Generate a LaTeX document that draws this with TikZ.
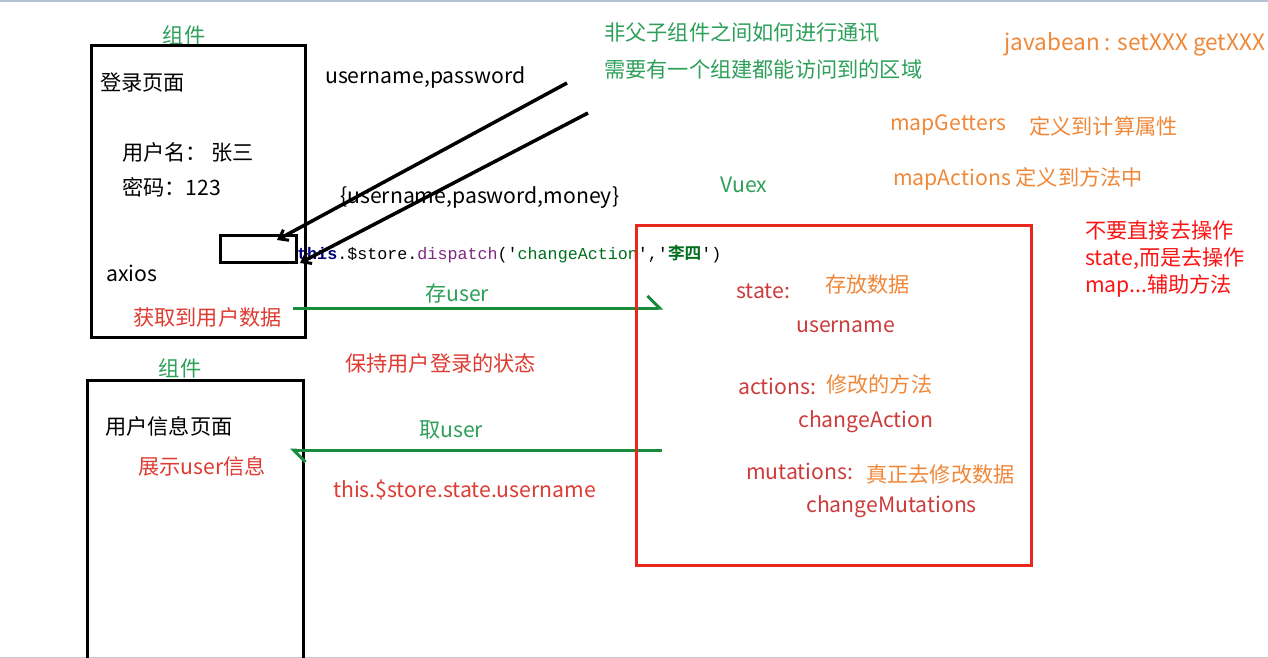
\documentclass[tikz,border=0pt]{standalone}
\usepackage{fontspec}
\setmainfont{Noto Sans CJK SC}
\newfontfamily\codefont{Liberation Mono}
\newfontfamily\cjkb{Noto Sans CJK SC}[BoldFont={* Bold}]
\usetikzlibrary{arrows.meta}
\definecolor{cgreen}{RGB}{46,160,90}
\definecolor{agreen}{RGB}{24,140,60}
\definecolor{corange}{RGB}{240,136,58}
\definecolor{cred}{RGB}{222,60,50}
\definecolor{bred}{RGB}{250,20,20}
\definecolor{boxred}{RGB}{232,40,30}
\definecolor{sred}{RGB}{205,60,60}
\definecolor{codeblue}{RGB}{0,0,128}
\definecolor{codepurple}{RGB}{128,40,128}
\definecolor{codegreen}{RGB}{0,110,30}
\tikzset{
  txt/.style={anchor=west,inner sep=0pt,yshift=-2pt,font=\fontsize{21.2}{25}\selectfont},
  ctxt/.style={inner sep=0pt,yshift=-1pt,font=\fontsize{21.2}{25}\selectfont},
  blk/.style={draw=black,line width=3pt},
  garrow/.style={draw=agreen,line width=3pt,-{Straight Barb[left,length=12pt,width=24pt,line width=3pt]}},
  karrow/.style={draw=black,line width=3.5pt,-{Straight Barb[length=8pt,width=12pt,line width=3pt]}},
}
\begin{document}
\begin{tikzpicture}[x=1pt,y=-1pt]
\useasboundingbox (0,0) rectangle (1268,658);
\fill[white] (0,0) rectangle (1268,658);
\draw[color={rgb,255:red,180;green,195;blue,212},line width=2pt] (0,1) -- (1268,1);
\draw[color={rgb,255:red,200;green,200;blue,200},line width=1pt] (0,657) -- (1268,657);

% component 1
\node[ctxt,text=cgreen] (c1) at (184,34) {组件};
\draw[blk] (91,46) rectangle (305,337);
\node[txt] (login) at (100,80) {登录页面};
\node[txt] (uname) at (122,150) {用户名：\ 张三};
\node[txt] (pwd) at (122,185) {密码：123};
\draw[blk] (220,235) rectangle (296,262);
\node[txt] (axios) at (106,271) {axios};
\node[txt,text=cred] (get) at (133,315) {获取到用户数据};

% component 2
\node[ctxt,text=cgreen] (c2) at (180,367) {组件};
\draw[blk] (87,662) -- (87,380) -- (303,380) -- (303,662);
\node[txt] (info) at (105,424) {用户信息页面};
\node[txt,text=cred] (show) at (138,464) {展示user信息};

% middle texts
\node[txt] (up) at (325,75) {username,password};
\node[txt] (upm) at (340,196) {\{username,pasword,money\}};
\node[anchor=west,inner sep=0pt,font=\codefont\fontsize{16.7}{20}\selectfont] (code) at (297,254)
  {\textcolor{codeblue}{\bfseries this}.\$store.\textcolor{codepurple}{dispatch}('\textcolor{codegreen}{changeAction}','\textcolor{codegreen}{\cjkb\bfseries 李四}')};

\coordinate (l1s) at (567,83);
\coordinate (l1e) at (277,240);
\coordinate (l2s) at (588,113);
\coordinate (l2e) at (300,263);
\draw[karrow] (l1s) -- (l1e);
\draw[karrow] (l2s) -- (l2e);

\node[txt,text=cgreen] (save) at (425,291) {存user};
\node[txt,text=cred] (keep) at (345,361) {保持用户登录的状态};
\node[txt,text=cgreen] (take) at (419,428) {取user};
\node[txt,text=cred] (path) at (333,488) {this.\$store.state.username};

\coordinate (a1s) at (293,308);
\coordinate (a1e) at (663,308);
\coordinate (a2s) at (662,450);
\coordinate (a2e) at (290,450);
\draw[garrow] (a1s) -- (a1e);
\draw[garrow] (a2s) -- (a2e);

% top texts
\node[txt,text=cgreen] (q1) at (604,31) {非父子组件之间如何进行通讯};
\node[txt,text=cgreen] (q2) at (604,67) {需要有一个组建都能访问到的区域};
\node[txt,text=corange,font=\fontsize{22.6}{26}\selectfont] (jb) at (1004,42) {javabean : setXXX getXXX};
\node[txt,text=corange] (mg) at (890,123) {mapGetters};
\node[txt,text=corange] (mgd) at (1029,124) {定义到计算属性};
\node[txt,text=corange] (ma) at (893,177) {mapActions 定义到方法中};
\node[ctxt,text=cgreen] (vuex) at (744,184) {Vuex};

% store box
\draw[draw=boxred,line width=3pt] (636,225) rectangle (1031,565);
\node[txt,text=sred] (st) at (736,289) {state:};
\node[txt,text=corange] (std) at (825,282) {存放数据};
\node[txt,text=sred] (stu) at (796,325) {username};
\node[txt,text=sred] (ac) at (738,384) {actions:};
\node[txt,text=corange] (acd) at (826,382) {修改的方法};
\node[txt,text=sred] (aca) at (798,420) {changeAction};
\node[txt,text=sred] (mu) at (746,469) {mutations:};
\node[txt,text=corange] (mud) at (866,472) {真正去修改数据};
\node[txt,text=sred] (mum) at (806,505) {changeMutations};

% note
\node[txt,text=bred] (n1) at (1085,228) {不要直接去操作};
\node[txt,text=bred] (n2) at (1085,257) {state,而是去操作};
\node[txt,text=bred] (n3) at (1085,284) {map...辅助方法};
\end{tikzpicture}
\end{document}
